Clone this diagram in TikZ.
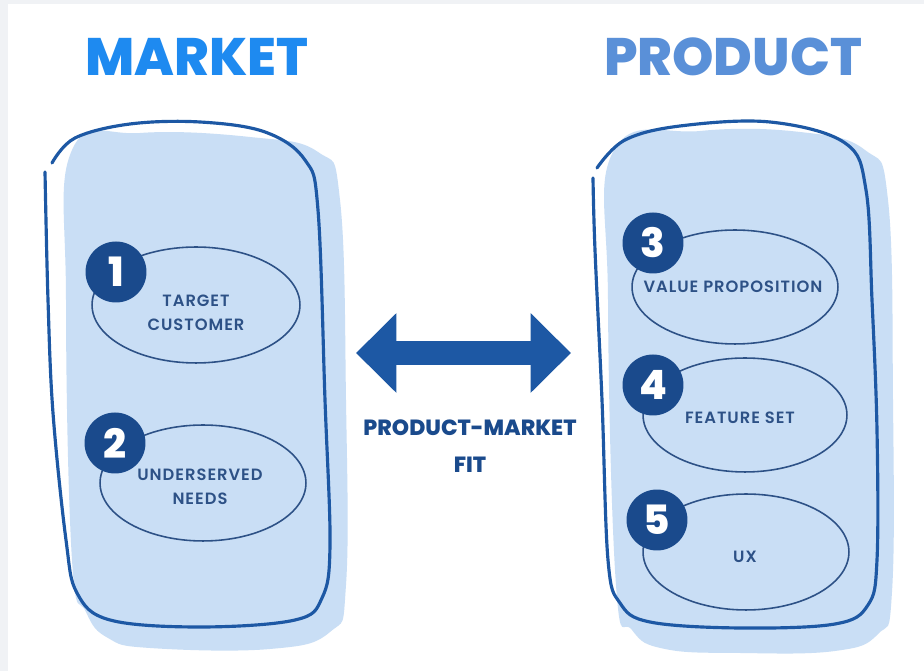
\documentclass[tikz,border=0pt]{standalone}
\usepackage{fontspec}
\setmainfont{Poppins}
\newfontfamily\semifont[LetterSpace=6]{Poppins SemiBold}
\newfontfamily\heavyfont{Poppins ExtraBold}
\usetikzlibrary{shapes.geometric,arrows.meta}

\definecolor{marketblue}{HTML}{1E8AF0}
\definecolor{productblue}{HTML}{5A90D8}
\definecolor{inkblue}{HTML}{1D58A4}
\definecolor{navy}{HTML}{1A4A8C}
\definecolor{paleblue}{HTML}{C9DEF5}
\definecolor{textblue}{HTML}{2D5186}
\definecolor{edgegray}{HTML}{F0F2F5}

\begin{document}
\begin{tikzpicture}[x=0.02cm, y=-0.02cm,
    oval/.style={ellipse, draw=textblue, line width=0.9pt, inner sep=0pt},
    numdot/.style={circle, fill=navy, text=white, minimum size=1.22cm, inner sep=0pt,
        font=\heavyfont\fontsize{23}{23}\selectfont},
    item/.style={text=textblue, align=center, font=\semifont\fontsize{9.3}{13.5}\selectfont},
    title/.style={font=\heavyfont\fontsize{30}{30}\selectfont}]

    % Page
    \useasboundingbox (0,0) rectangle (924,671);
    \fill[white] (0,0) rectangle (924,671);
    \fill[edgegray] (0,0) rectangle (8,671);
    \fill[edgegray] (0,0) rectangle (924,4);

    % Titles
    \node[title, text=marketblue] (market) at (197,57) {MARKET};
    \node[title, text=productblue] (product) at (733,57) {PRODUCT};

    % Panels: soft fill first, then the sketched outline
    \fill[paleblue] plot[smooth cycle, tension=0.7] coordinates {
        (72,150) (140,133) (250,137) (318,152) (340,200) (346,400)
        (346,585) (330,632) (270,649) (150,648) (108,638) (86,612) (72,560) (66,300)
    };
    \fill[paleblue] plot[smooth cycle, tension=0.7] coordinates {
        (614,150) (700,131) (800,132) (865,150) (888,200) (893,400)
        (892,592) (878,634) (835,651) (740,653) (665,649) (632,630) (616,585) (608,300)
    };

    \draw[inkblue, line width=1.8pt, line cap=round] plot[smooth, tension=0.6] coordinates {
        (52,163) (75,138) (130,124) (200,122) (265,132) (305,160) (318,210)
        (325,400) (330,545) (322,598) (295,620) (200,627) (110,620) (77,593)
        (66,540) (53,413) (48,300) (45,172)
    };
    \draw[inkblue, line width=1.8pt, line cap=round] plot[smooth, tension=0.6] coordinates {
        (597,168) (625,140) (680,126) (770,122) (845,143) (866,190) (872,300)
        (877,430) (877,560) (868,605) (835,624) (740,628) (650,622) (620,603)
        (608,560) (602,400) (595,250) (593,178)
    };

    % Numbered items
    \foreach \n/\cx/\cy/\rx/\ry/\dx/\dy/\tx/\ty/\txt in {
        1/196/305/104/58/116/272/196/313/{TARGET\\CUSTOMER},
        2/203/483/103/58/115/443/200/487/{UNDERSERVED\\NEEDS},
        3/735/287/103/57/653/243/733/287/{VALUE PROPOSITION},
        4/745/415/102/57/653/385/740/418/{FEATURE SET},
        5/746/552/103/58/657/520/745/557/{UX}} {
        \node[oval, minimum width={\rx*0.04cm}, minimum height={\ry*0.04cm}] (oval\n) at (\cx,\cy) {};
        \node[item] (item\n) at (\tx,\ty) {\txt};
        \node[numdot] (dot\n) at (\dx,\dy) {\n};
    }

    % Fit arrow
    \coordinate (fitL) at (356,353);
    \coordinate (fitR) at (571,353);
    \draw[inkblue, line width=14pt,
        {Triangle[length=23pt,width=44pt]}-{Triangle[length=23pt,width=44pt]}] (fitL) -- (fitR);
    \node[text=navy, align=center, font=\heavyfont\fontsize{12.5}{21}\selectfont] (fit) at (470,446)
        {PRODUCT-MARKET\\FIT};
\end{tikzpicture}
\end{document}
